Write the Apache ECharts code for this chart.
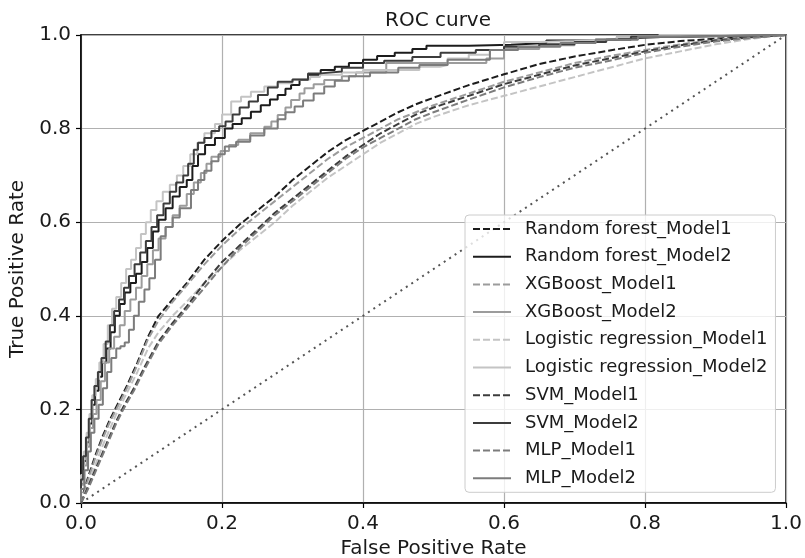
<!DOCTYPE html>
<html>
<head>
<meta charset="utf-8">
<script src="https://cdn.jsdelivr.net/npm/echarts@6/dist/echarts.min.js"></script>
<style>
  html, body { margin: 0; padding: 0; background: #fff; }
  #chart { width: 805px; height: 558px; }
</style>
</head>
<body>
<div id="chart"></div>
<script>
// ROC curves: [false positive rate, true positive rate]
const tickValues = [0.0, 0.2, 0.4, 0.6, 0.8, 1.0];

const rfModel1 = [[0,0],[0.005,0.03],[0.01,0.055],[0.02,0.10],[0.03,0.14],[0.04,0.175],[0.05,0.205],[0.065,0.25],[0.08,0.30],[0.095,0.355],[0.11,0.40],[0.13,0.435],[0.15,0.47],[0.175,0.52],[0.2,0.56],[0.225,0.595],[0.25,0.625],[0.275,0.655],[0.3,0.69],[0.325,0.72],[0.35,0.75],[0.375,0.775],[0.4,0.795],[0.425,0.815],[0.45,0.835],[0.475,0.852],[0.5,0.866],[0.55,0.893],[0.6,0.916],[0.65,0.938],[0.7,0.954],[0.75,0.967],[0.8,0.979],[0.85,0.987],[0.9,0.992],[0.95,0.997],[1,1]];
const rfModel2 = [[0,0],[0,0.04],[0.004,0.09],[0.008,0.13],[0.012,0.17],[0.016,0.21],[0.02,0.24],[0.025,0.27],[0.03,0.30],[0.036,0.33],[0.042,0.365],[0.048,0.40],[0.055,0.425],[0.062,0.45],[0.07,0.47],[0.078,0.49],[0.086,0.515],[0.094,0.545],[0.102,0.58],[0.11,0.605],[0.12,0.63],[0.13,0.655],[0.14,0.675],[0.15,0.69],[0.158,0.72],[0.166,0.745],[0.176,0.765],[0.19,0.78],[0.204,0.80],[0.215,0.81],[0.228,0.822],[0.241,0.836],[0.255,0.85],[0.268,0.862],[0.279,0.872],[0.29,0.885],[0.298,0.893],[0.31,0.904],[0.322,0.915],[0.34,0.925],[0.36,0.932],[0.38,0.94],[0.40,0.947],[0.42,0.955],[0.445,0.962],[0.47,0.97],[0.49,0.977],[0.55,0.979],[0.61,0.983],[0.66,0.988],[0.73,0.992],[0.77,0.996],[0.83,1],[1,1]];
const xgbModel1 = [[0,0],[0.005,0.025],[0.01,0.05],[0.02,0.095],[0.03,0.135],[0.04,0.17],[0.05,0.2],[0.065,0.245],[0.08,0.295],[0.095,0.35],[0.11,0.39],[0.13,0.43],[0.15,0.465],[0.175,0.51],[0.2,0.55],[0.225,0.585],[0.25,0.615],[0.275,0.645],[0.3,0.675],[0.325,0.705],[0.35,0.735],[0.375,0.76],[0.4,0.78],[0.425,0.80],[0.45,0.82],[0.475,0.835],[0.5,0.85],[0.55,0.875],[0.6,0.90],[0.65,0.92],[0.7,0.94],[0.75,0.955],[0.8,0.968],[0.85,0.98],[0.9,0.99],[0.95,0.996],[1,1]];
const xgbModel2 = [[0,0],[0,0.04],[0.004,0.08],[0.008,0.12],[0.012,0.16],[0.017,0.19],[0.022,0.22],[0.028,0.26],[0.034,0.30],[0.04,0.33],[0.047,0.355],[0.055,0.38],[0.062,0.41],[0.07,0.435],[0.078,0.46],[0.086,0.485],[0.094,0.51],[0.102,0.54],[0.11,0.565],[0.12,0.59],[0.13,0.615],[0.14,0.635],[0.15,0.66],[0.16,0.685],[0.17,0.705],[0.178,0.725],[0.185,0.74],[0.198,0.752],[0.21,0.765],[0.223,0.776],[0.24,0.79],[0.26,0.804],[0.27,0.815],[0.279,0.829],[0.29,0.845],[0.298,0.861],[0.31,0.875],[0.317,0.886],[0.33,0.895],[0.345,0.904],[0.37,0.912],[0.39,0.92],[0.433,0.94],[0.5,0.94],[0.575,0.95],[0.6,0.97],[0.65,0.978],[0.7,0.983],[0.73,0.991],[0.76,0.996],[0.82,1],[1,1]];
const lrModel1 = [[0,0],[0.01,0.04],[0.02,0.08],[0.03,0.12],[0.04,0.155],[0.05,0.19],[0.065,0.235],[0.08,0.28],[0.095,0.33],[0.11,0.365],[0.13,0.40],[0.15,0.43],[0.175,0.47],[0.2,0.505],[0.225,0.54],[0.25,0.57],[0.275,0.60],[0.3,0.635],[0.325,0.665],[0.35,0.695],[0.375,0.72],[0.4,0.745],[0.425,0.77],[0.45,0.79],[0.475,0.81],[0.5,0.825],[0.55,0.85],[0.6,0.87],[0.65,0.89],[0.7,0.91],[0.75,0.93],[0.8,0.95],[0.85,0.965],[0.9,0.98],[0.95,0.992],[1,1]];
const lrModel2 = [[0,0],[0,0.06],[0.004,0.11],[0.008,0.15],[0.012,0.19],[0.016,0.23],[0.021,0.265],[0.026,0.30],[0.032,0.34],[0.038,0.38],[0.044,0.415],[0.05,0.44],[0.057,0.47],[0.064,0.50],[0.071,0.52],[0.078,0.545],[0.085,0.575],[0.092,0.60],[0.099,0.626],[0.107,0.645],[0.116,0.665],[0.126,0.68],[0.136,0.70],[0.145,0.72],[0.155,0.745],[0.165,0.77],[0.175,0.79],[0.19,0.81],[0.2,0.83],[0.213,0.858],[0.227,0.868],[0.241,0.879],[0.26,0.89],[0.279,0.897],[0.3,0.905],[0.325,0.91],[0.339,0.915],[0.37,0.92],[0.40,0.925],[0.44,0.925],[0.48,0.932],[0.509,0.936],[0.52,0.95],[0.55,0.958],[0.58,0.968],[0.6,0.985],[0.65,0.987],[0.7,0.99],[0.76,0.995],[0.82,1],[1,1]];
const svmModel1 = [[0,0],[0.01,0.035],[0.02,0.07],[0.03,0.105],[0.04,0.14],[0.05,0.175],[0.06,0.205],[0.075,0.245],[0.09,0.29],[0.11,0.345],[0.13,0.385],[0.15,0.42],[0.175,0.47],[0.2,0.515],[0.225,0.55],[0.25,0.585],[0.275,0.62],[0.3,0.65],[0.325,0.68],[0.35,0.71],[0.375,0.74],[0.4,0.765],[0.425,0.79],[0.45,0.81],[0.475,0.83],[0.5,0.845],[0.55,0.87],[0.6,0.895],[0.65,0.915],[0.7,0.935],[0.75,0.95],[0.8,0.965],[0.85,0.978],[0.9,0.988],[0.95,0.995],[1,1]];
const svmModel2 = [[0,0],[0,0.05],[0.003,0.10],[0.007,0.14],[0.011,0.18],[0.015,0.22],[0.019,0.25],[0.024,0.28],[0.029,0.31],[0.035,0.345],[0.041,0.38],[0.047,0.41],[0.054,0.435],[0.061,0.46],[0.068,0.485],[0.076,0.51],[0.084,0.535],[0.092,0.56],[0.1,0.59],[0.108,0.615],[0.117,0.64],[0.126,0.665],[0.135,0.685],[0.145,0.70],[0.152,0.725],[0.16,0.755],[0.166,0.77],[0.175,0.78],[0.185,0.795],[0.196,0.805],[0.205,0.815],[0.215,0.83],[0.225,0.845],[0.238,0.858],[0.251,0.872],[0.265,0.888],[0.279,0.90],[0.3,0.905],[0.322,0.918],[0.34,0.922],[0.37,0.93],[0.40,0.94],[0.43,0.945],[0.47,0.953],[0.51,0.962],[0.56,0.968],[0.6,0.975],[0.65,0.98],[0.7,0.985],[0.745,0.99],[0.78,0.996],[0.85,1],[1,1]];
const mlpModel1 = [[0,0],[0.01,0.03],[0.02,0.065],[0.03,0.10],[0.04,0.135],[0.05,0.17],[0.06,0.2],[0.075,0.24],[0.09,0.285],[0.11,0.34],[0.13,0.38],[0.15,0.415],[0.175,0.46],[0.2,0.505],[0.225,0.545],[0.25,0.58],[0.275,0.615],[0.3,0.645],[0.325,0.675],[0.35,0.705],[0.375,0.735],[0.4,0.76],[0.425,0.78],[0.45,0.80],[0.475,0.82],[0.5,0.835],[0.55,0.862],[0.6,0.888],[0.65,0.91],[0.7,0.93],[0.75,0.945],[0.8,0.962],[0.85,0.975],[0.9,0.986],[0.95,0.994],[1,1]];
const mlpModel2 = [[0,0],[0,0.03],[0.005,0.07],[0.01,0.11],[0.014,0.15],[0.019,0.18],[0.025,0.21],[0.031,0.245],[0.037,0.28],[0.043,0.31],[0.05,0.33],[0.056,0.335],[0.062,0.343],[0.068,0.37],[0.075,0.40],[0.082,0.43],[0.09,0.456],[0.097,0.48],[0.105,0.52],[0.113,0.57],[0.12,0.59],[0.13,0.61],[0.14,0.63],[0.156,0.669],[0.166,0.69],[0.175,0.71],[0.185,0.73],[0.195,0.745],[0.204,0.762],[0.22,0.772],[0.24,0.785],[0.26,0.80],[0.279,0.82],[0.29,0.835],[0.303,0.847],[0.315,0.86],[0.33,0.875],[0.345,0.89],[0.36,0.902],[0.38,0.912],[0.41,0.92],[0.45,0.93],[0.48,0.936],[0.52,0.947],[0.58,0.968],[0.62,0.975],[0.68,0.983],[0.73,0.99],[0.79,0.996],[0.84,1],[1,1]];
const chanceLine = [[0,0],[1,1]];

const FONT = 'DejaVu Sans';
const DASH = [7, 3];

function curve(name, data, color, dashed) {
  return {
    name: name,
    type: 'line',
    data: data,
    step: dashed ? false : 'end',
    symbol: 'none',
    showSymbol: false,
    silent: true,
    lineStyle: { color: color, width: 2, type: dashed ? DASH : 'solid' },
    itemStyle: { color: color }
  };
}

const seriesList = [
  curve('Random forest_Model1', rfModel1, '#1c1c1c', true),
  curve('Random forest_Model2', rfModel2, '#1c1c1c', false),
  curve('XGBoost_Model1', xgbModel1, '#9c9c9c', true),
  curve('XGBoost_Model2', xgbModel2, '#9c9c9c', false),
  curve('Logistic regression_Model1', lrModel1, '#c4c4c4', true),
  curve('Logistic regression_Model2', lrModel2, '#c4c4c4', false),
  curve('SVM_Model1', svmModel1, '#3c3c3c', true),
  curve('SVM_Model2', svmModel2, '#3c3c3c', false),
  curve('MLP_Model1', mlpModel1, '#7c7c7c', true),
  curve('MLP_Model2', mlpModel2, '#7c7c7c', false),
  {
    type: 'line',
    data: chanceLine,
    symbol: 'none',
    silent: true,
    lineStyle: { color: '#555555', width: 2, type: [2, 4.5] }
  }
];

const chart = echarts.init(document.getElementById('chart'), null, { renderer: 'canvas' });
chart.setOption({
  animation: false,
  backgroundColor: '#ffffff',
  title: {
    text: 'ROC curve',
    left: 433,
    textAlign: 'center',
    top: 6,
    textStyle: { fontFamily: FONT, fontSize: 20, fontWeight: 'normal', color: '#1a1a1a' }
  },
  grid: {
    left: 81, right: 19, top: 35, bottom: 55,
    outerBoundsMode: 'none',
    containLabel: false,
    show: true, borderColor: '#000000', borderWidth: 1.5, backgroundColor: 'transparent'
  },
  legend: {
    orient: 'vertical',
    left: 465,
    top: 215,
    padding: [4, 8, 4, 7],
    itemWidth: 38,
    itemHeight: 20,
    itemGap: 7.7,
    itemStyle: { opacity: 0 },
    backgroundColor: 'rgba(255,255,255,0.8)',
    borderColor: '#cccccc',
    borderWidth: 1,
    borderRadius: 4,
    data: seriesList.filter(s => s.name).map(s => s.name),
    textStyle: { fontFamily: FONT, fontSize: 18, lineHeight: 20, color: '#1a1a1a', padding: [0, 0, 0, 9] }
  },
  xAxis: {
    type: 'value',
    min: 0, max: 1, interval: 0.2,
    name: 'False Positive Rate',
    nameLocation: 'middle',
    nameGap: 35,
    nameTextStyle: { fontFamily: FONT, fontSize: 20, color: '#1a1a1a' },
    axisLine: { show: true, onZero: false, lineStyle: { color: '#000', width: 1.5 } },
    axisTick: { show: true, length: 5, lineStyle: { color: '#000', width: 1.2 } },
    axisLabel: {
      fontFamily: FONT, fontSize: 20, color: '#1a1a1a', margin: 11,
      formatter: v => tickValues.find(t => Math.abs(t - v) < 1e-9).toFixed(1)
    },
    splitLine: { show: true, lineStyle: { color: '#b0b0b0', width: 1.2 } }
  },
  yAxis: {
    type: 'value',
    min: 0, max: 1, interval: 0.2,
    name: 'True Positive Rate',
    nameLocation: 'middle',
    nameGap: 43,
    nameTextStyle: { fontFamily: FONT, fontSize: 20, color: '#1a1a1a' },
    axisLine: { show: true, onZero: false, lineStyle: { color: '#000', width: 1.5 } },
    axisTick: { show: true, length: 5, lineStyle: { color: '#000', width: 1.2 } },
    axisLabel: {
      fontFamily: FONT, fontSize: 20, color: '#1a1a1a', margin: 10,
      formatter: v => tickValues.find(t => Math.abs(t - v) < 1e-9).toFixed(1)
    },
    splitLine: { show: true, lineStyle: { color: '#b0b0b0', width: 1.2 } }
  },
  series: seriesList
});
</script>
</body>
</html>
